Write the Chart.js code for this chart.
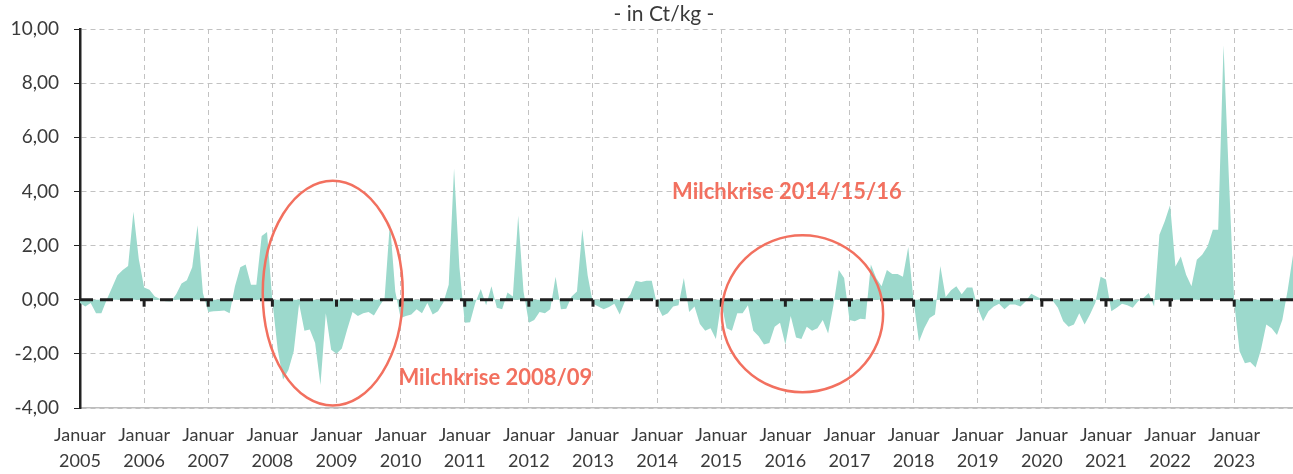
<!DOCTYPE html>
<html lang="de">
<head>
<meta charset="UTF-8">
<title>Milchpreis - in Ct/kg -</title>
<script src="https://cdn.jsdelivr.net/npm/chart.js"></script>
<style>
  html, body { margin: 0; padding: 0; background: #fff; }
  #wrap { width: 1293px; height: 474px; }
</style>
</head>
<body>
<div id="wrap"><canvas id="milkChart" width="1293" height="474"></canvas></div>
<script>
// Monatswerte ab Januar 2005, in Ct/kg
const years = [2005, 2006, 2007, 2008, 2009, 2010, 2011, 2012, 2013, 2014,
               2015, 2016, 2017, 2018, 2019, 2020, 2021, 2022, 2023];
const yTicks = [-4, -2, 0, 2, 4, 6, 8, 10];
const monthlyDiff = [
  // 2005
  -0.12, -0.25, -0.12, -0.5, -0.5, 0.0, 0.45, 0.9, 1.1, 1.25, 3.25, 1.5,
  // 2006
  0.45, 0.37, 0.12, 0.03, -0.06, -0.07, 0.2, 0.6, 0.72, 1.2, 2.75, 0.25,
  // 2007
  -0.45, -0.43, -0.42, -0.4, -0.5, 0.5, 1.2, 1.3, 0.55, 0.55, 2.35, 2.5,
  // 2008
  -0.05, -1.85, -2.95, -2.6, -1.9, -0.15, -1.15, -1.1, -1.6, -3.15, -0.5, -1.85,
  // 2009
  -2.0, -1.8, -1.1, -0.45, -0.6, -0.5, -0.45, -0.58, -0.25, 0.05, 2.85, 0.3,
  // 2010
  -0.68, -0.6, -0.55, -0.35, -0.5, -0.12, -0.55, -0.43, -0.1, 0.55, 4.85, 1.2,
  // 2011
  -0.85, -0.83, -0.1, 0.4, -0.2, 0.5, -0.3, -0.35, 0.27, 0.12, 3.1, 0.3,
  // 2012
  -0.85, -0.75, -0.45, -0.5, -0.35, 0.85, -0.35, -0.33, 0.12, 0.3, 2.6, 0.9,
  // 2013
  -0.15, -0.25, -0.35, -0.27, -0.15, -0.55, -0.05, 0.2, 0.7, 0.65, 0.7, 0.7,
  // 2014
  -0.2, -0.6, -0.5, -0.25, -0.2, 0.8, -0.45, -0.25, -0.9, -1.15, -1.05, -1.45,
  // 2015
  -0.1, -1.05, -1.15, -0.5, -0.5, -0.2, -1.15, -1.35, -1.65, -1.6, -1.0, -0.85,
  // 2016
  -1.65, -0.6, -1.4, -1.45, -1.0, -1.15, -1.05, -0.75, -1.25, -0.2, 1.1, 0.8,
  // 2017
  -0.75, -0.8, -0.7, -0.72, 1.3, 0.8, 0.5, 1.1, 0.95, 0.95, 0.85, 1.95,
  // 2018
  -0.05, -1.55, -1.05, -0.68, -0.55, 1.25, 0.1, 0.35, 0.5, 0.2, 0.45, 0.45,
  // 2019
  -0.3, -0.8, -0.43, -0.25, -0.15, -0.35, -0.18, -0.18, -0.25, -0.06, 0.22, 0.12,
  // 2020
  0.02, 0.02, -0.03, -0.3, -0.8, -1.0, -0.92, -0.5, -0.92, -0.55, -0.12, 0.85,
  // 2021
  0.75, -0.43, -0.3, -0.15, -0.2, -0.3, -0.06, 0.06, 0.25, -0.25, 2.4, 2.9,
  // 2022
  3.5, 1.23, 1.6, 0.92, 0.5, 1.48, 1.66, 1.97, 2.58, 2.58, 9.4, 4.5,
  // 2023
  -0.1, -1.9, -2.35, -2.3, -2.5, -1.85, -0.92, -1.05, -1.3, -0.75, 0.35, 1.65
];

// Markierungen der Milchkrisen (Monatsindex / Wert in Ct/kg)
const crises = [
  { text: 'Milchkrise 2008/09',    cx: 47.3,  cy: 0.24,  rx: 13.1, ry: 4.15, tx: 59.6,  ty: -2.88 },
  { text: 'Milchkrise 2014/15/16', cx: 135.2, cy: -0.52, rx: 15.1, ry: 2.9,  tx: 110.8, ty: 3.98 }
];

const textColor = '#3a3a3a';
const coral = '#f2705f';
const fontFamily = 'Lato, "Noto Sans", sans-serif';

const overlay = {
  id: 'overlay',
  afterDatasetsDraw(chart) {
    const { ctx, chartArea: a, scales: { x, y } } = chart;
    const y0 = y.getPixelForValue(0);
    ctx.save();
    // Nulllinie
    ctx.strokeStyle = '#1f1f1f';
    ctx.lineWidth = 3;
    ctx.setLineDash([13, 7]);
    ctx.beginPath();
    ctx.moveTo(a.left, y0);
    ctx.lineTo(a.right, y0);
    ctx.stroke();
    ctx.setLineDash([]);
    years.forEach((yr, i) => {
      if (i === 0) return;
      const px = x.getPixelForValue(i * 12);
      ctx.beginPath();
      ctx.moveTo(px, y0);
      ctx.lineTo(px, y0 + 7);
      ctx.stroke();
    });
    // Krisen
    ctx.strokeStyle = coral;
    ctx.lineWidth = 2.5;
    ctx.fillStyle = coral;
    ctx.font = 'bold 22px ' + fontFamily;
    ctx.textBaseline = 'middle';
    ctx.textAlign = 'left';
    crises.forEach(c => {
      const cx = x.getPixelForValue(c.cx);
      const cy = y.getPixelForValue(c.cy);
      const rx = Math.abs(x.getPixelForValue(c.cx + c.rx) - cx);
      const ry = Math.abs(y.getPixelForValue(c.cy + c.ry) - cy);
      ctx.beginPath();
      ctx.ellipse(cx, cy, rx, ry, 0, 0, Math.PI * 2);
      ctx.stroke();
      ctx.fillText(c.text, x.getPixelForValue(c.tx), y.getPixelForValue(c.ty));
    });
    ctx.restore();
  },
  afterDraw(chart) {
    const { ctx } = chart;
    ctx.save();
    ctx.fillStyle = textColor;
    ctx.font = '21px ' + fontFamily;
    ctx.textAlign = 'center';
    ctx.textBaseline = 'middle';
    ctx.fillText('- in Ct/kg -', 664, 14);
    ctx.restore();
  }
};

const ctx = document.getElementById('milkChart').getContext('2d');
new Chart(ctx, {
  type: 'line',
  data: {
    datasets: [{
      data: monthlyDiff.map((v, i) => ({ x: i, y: v })),
      fill: 'origin',
      backgroundColor: '#9cd9cc',
      borderColor: 'rgba(0,0,0,0)',
      borderWidth: 0,
      pointRadius: 0,
      tension: 0
    }]
  },
  options: {
    responsive: false,
    animation: false,
    layout: { padding: { top: 29, right: 0, left: 0, bottom: 0 } },
    plugins: {
      legend: { display: false },
      tooltip: { enabled: false }
    },
    scales: {
      x: {
        type: 'linear',
        min: 0,
        max: monthlyDiff.length - 1,
        afterBuildTicks: s => { s.ticks = years.map((yr, i) => ({ value: i * 12 })); },
        afterFit: s => { s.height = 66; },
        grid: { color: '#c2c2c2', lineWidth: 1, drawTicks: false },
        border: { color: '#bdbdbd', width: 1.5, dash: [5, 4] },
        ticks: {
          autoSkip: false,
          maxRotation: 0,
          padding: 14,
          color: textColor,
          font: { family: fontFamily, size: 18, lineHeight: 1.45 },
          callback: v => ['Januar', String(years[0] + v / 12)]
        }
      },
      y: {
        min: -4,
        max: 10,
        afterBuildTicks: s => { s.ticks = yTicks.map(v => ({ value: v })); },
        afterFit: s => { s.width = 80; },
        grid: { color: '#c2c2c2', lineWidth: 1, tickColor: '#222', tickLength: 6 },
        border: { color: '#222', width: 2.5, dash: [5, 4] },
        ticks: {
          padding: 15,
          color: textColor,
          font: { family: fontFamily, size: 19 },
          callback: v => v.toFixed(2).replace('.', ',')
        }
      }
    }
  },
  plugins: [overlay]
});
</script>
</body>
</html>
